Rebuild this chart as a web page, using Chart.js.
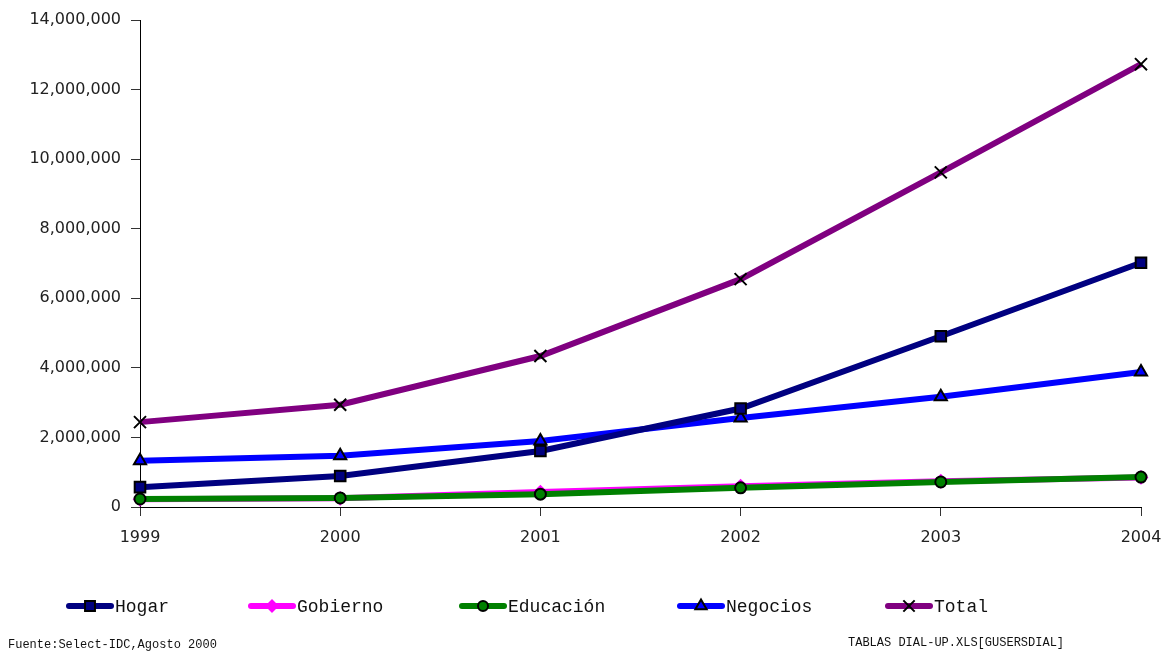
<!DOCTYPE html>
<html>
<head>
<meta charset="utf-8">
<script src="https://cdn.jsdelivr.net/npm/chart.js@4/dist/chart.umd.min.js"></script>
<style>
  html, body { margin: 0; padding: 0; background: #fff; }
  #wrap { position: relative; width: 1170px; height: 652px; }
</style>
</head>
<body>
<div id="wrap"><canvas id="c"></canvas></div>
<script>
  // usuarios dial-up por segmento, 1999-2004
  var years = ['1999', '2000', '2001', '2002', '2003', '2004'];
  var hogar = [570000, 890000, 1610000, 2830000, 4910000, 7020000];
  var gobierno = [220000, 250000, 430000, 600000, 740000, 850000];
  var educacion = [230000, 260000, 370000, 550000, 720000, 860000];
  var negocios = [1330000, 1470000, 1900000, 2560000, 3170000, 3880000];
  var total = [2440000, 2940000, 4340000, 6550000, 9620000, 12730000];
  var yTicks = [0, 2000000, 4000000, 6000000, 8000000, 10000000, 12000000, 14000000];

  var fuente = 'Fuente:Select-IDC,Agosto 2000';
  var archivo = 'TABLAS DIAL-UP.XLS[GUSERSDIAL]';

  function serie(label, data, color, style, fill, radius, order) {
    return {
      label: label, data: data, order: order,
      borderColor: color, borderWidth: 6, tension: 0,
      pointStyle: style, pointRadius: radius, pointHoverRadius: radius,
      pointBackgroundColor: fill, pointBorderColor: style === 'rectRot' ? color : '#000',
      pointBorderWidth: 2
    };
  }

  var datasets = [
    serie('Hogar', hogar, '#000080', 'rect', '#000080', 7.5, 1),
    serie('Gobierno', gobierno, '#FF00FF', 'rectRot', '#FF00FF', 6, 4),
    serie('Educación', educacion, '#008000', 'circle', '#008000', 5.5, 3),
    serie('Negocios', negocios, '#0000FF', 'triangle', '#0000FF', 7, 2),
    serie('Total', total, '#800080', 'crossRot', '#000', 8.5, 5)
  ];

  // leyenda tipo Excel: trazo + marcador + nombre, en una fila debajo del eje
  var legendX = [66, 248, 459, 677, 885];
  var leyenda = {
    id: 'leyenda',
    afterDraw: function (chart) {
      var ctx = chart.ctx, y = 606;
      chart.data.datasets.forEach(function (ds, i) {
        var x0 = legendX[i];
        ctx.save();
        ctx.lineCap = 'round';
        ctx.strokeStyle = ds.borderColor; ctx.lineWidth = 6;
        ctx.beginPath(); ctx.moveTo(x0 + 3, y); ctx.lineTo(x0 + 45, y); ctx.stroke();
        ctx.lineCap = 'butt';
        ctx.fillStyle = ds.pointBackgroundColor;
        ctx.strokeStyle = ds.pointBorderColor;
        ctx.lineWidth = ds.pointBorderWidth;
        Chart.helpers.drawPoint(ctx, {
          pointStyle: ds.pointStyle, radius: ds.pointRadius - 0.5, rotation: 0, borderWidth: ds.pointBorderWidth
        }, x0 + 24, y);
        ctx.fillStyle = '#111';
        ctx.font = '18px "Liberation Mono"';
        ctx.textBaseline = 'middle';
        ctx.fillText(ds.label, x0 + 49, y + 1);
        ctx.restore();
      });
      ctx.save();
      ctx.fillStyle = '#111';
      ctx.font = '12px "Liberation Mono"';
      ctx.textBaseline = 'middle';
      ctx.fillText(fuente, 8, 645);
      ctx.fillText(archivo, 848, 643);
      ctx.restore();
    }
  };

  new Chart(document.getElementById('c'), {
    type: 'line',
    data: { labels: years, datasets: datasets },
    plugins: [leyenda],
    options: {
      responsive: true, maintainAspectRatio: false, animation: false,
      layout: { padding: { top: 20, right: 29, bottom: 0, left: 0 } },
      plugins: { legend: { display: false }, tooltip: { enabled: false } },
      scales: {
        x: {
          offset: false,
          grid: { drawOnChartArea: false, drawTicks: true, tickLength: 9, color: '#333' },
          border: { color: '#000', width: 1 },
          ticks: { color: '#222', font: { family: 'DejaVu Sans', size: 16 }, padding: 12, maxRotation: 0 },
          afterFit: function (s) { s.height = 145; s.paddingLeft = 0; s.paddingRight = 0; }
        },
        y: {
          min: 0, max: 14000000,
          afterBuildTicks: function (s) { s.ticks = yTicks.map(function (v) { return { value: v }; }); },
          grid: { drawOnChartArea: false, drawTicks: true, tickLength: 9, color: '#333' },
          border: { color: '#000', width: 1 },
          ticks: {
            color: '#222', font: { family: 'DejaVu Sans', size: 16 }, padding: 10,
            callback: function (v) { return v.toLocaleString('en-US'); }
          },
          afterFit: function (s) { s.width = 140; }
        }
      }
    }
  });
</script>
</body>
</html>
